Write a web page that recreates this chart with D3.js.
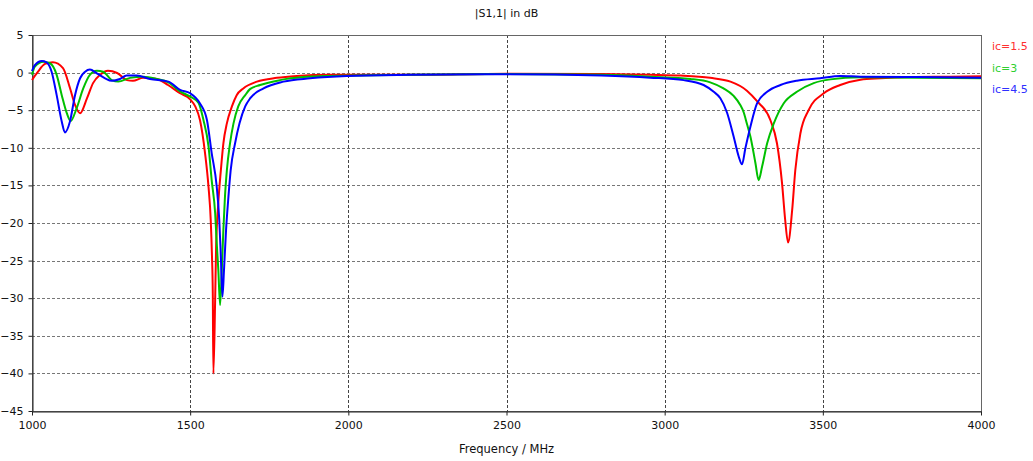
<!DOCTYPE html>
<html lang="en">
<head>
<meta charset="utf-8">
<title>|S1,1| in dB</title>
<script src="https://cdn.jsdelivr.net/npm/d3@7"></script>
<style>
  body { margin: 0; background: #fff; }
  text { font-family: "DejaVu Sans", sans-serif; }
</style>
</head>
<body>
<script>

// frequency in MHz, |S11| in dB
const freqRed = [1000, 1016, 1041, 1066, 1098, 1120, 1136, 1152, 1174, 1193, 1215, 1240, 1269, 1300, 1319, 1351, 1395, 1430, 1468, 1500, 1516, 1531, 1547, 1558, 1565, 1569, 1571.5, 1573.4, 1578.8, 1582, 1589, 1597, 1605, 1616, 1632, 1647, 1668, 1711, 1774, 1837, 1942, 2195, 2500, 2800, 2954, 3050, 3144, 3208, 3260, 3292, 3334, 3355, 3371, 3381, 3390, 3403, 3413, 3429, 3455, 3503, 3555, 3619, 3682, 3777, 3900, 4000];
const dbRed = [-0.98, -0.05, 1.15, 1.37, 0.6, -2.05, -4.3, -5.4, -3.4, -1.4, -0.3, 0.25, -0.05, -1.0, -1.1, -0.7, -0.85, -1.65, -2.75, -3.55, -4.5, -6.3, -10.7, -15.2, -19.6, -24.5, -29.3, -40, -30.6, -23.2, -17.3, -13, -9.4, -6.75, -4.5, -3.0, -2.1, -1.2, -0.7, -0.45, -0.3, -0.3, -0.15, -0.2, -0.3, -0.4, -0.7, -1.2, -2.4, -3.8, -6.3, -9.4, -14.7, -19.6, -22.6, -18.3, -12.95, -8.1, -5.0, -2.75, -1.65, -0.95, -0.76, -0.6, -0.55, -0.5];

const freqGreen = [1000, 1009, 1036, 1057, 1078, 1094, 1110, 1122, 1141, 1162, 1183, 1205, 1225, 1252, 1273, 1310, 1352, 1394, 1431, 1468, 1500, 1526, 1542, 1558, 1568, 1579, 1584, 1589, 1594.6, 1600, 1605, 1610, 1616, 1626, 1637, 1652, 1674, 1689, 1721, 1784, 1858, 1942, 2195, 2500, 2800, 2954, 3081, 3144, 3186, 3218, 3239, 3250, 3260, 3271, 3287, 3297, 3308, 3324, 3345, 3376, 3418, 3471, 3524, 3619, 3800, 4000];
const dbGreen = [-0.3, 0.8, 1.45, 1.24, -0.3, -3.0, -5.4, -6.45, -4.75, -2.1, -0.3, 0.25, 0.12, -1.0, -1.2, -0.7, -0.55, -0.85, -1.3, -2.5, -3.2, -4.0, -6.3, -9.8, -14.3, -18.7, -22.7, -26.2, -30.9, -26.2, -20.9, -16.5, -13.0, -9.4, -6.75, -4.5, -3.0, -2.2, -1.65, -1.0, -0.6, -0.45, -0.3, -0.2, -0.3, -0.55, -0.85, -1.3, -2.1, -3.1, -4.3, -5.3, -6.8, -8.5, -12.05, -14.3, -12.5, -9.4, -6.75, -4.1, -2.55, -1.4, -0.9, -0.63, -0.7, -0.75];

const freqBlue = [1000, 1009, 1031, 1046, 1062, 1078, 1094, 1104, 1120, 1136, 1152, 1168, 1183, 1205, 1231, 1252, 1278, 1299, 1331, 1373, 1431, 1468, 1500, 1531, 1553, 1568, 1584, 1592, 1597, 1602, 1607, 1613.5, 1621, 1628, 1642, 1656, 1674, 1690, 1732, 1795, 1879, 1995, 2195, 2500, 2800, 2954, 3060, 3123, 3155, 3176, 3197, 3218, 3234, 3244.5, 3255, 3271, 3292, 3324, 3366, 3418, 3492, 3555, 3619, 3800, 4000];
const dbBlue = [0.2, 1.0, 1.55, 1.37, 0.12, -3.0, -6.5, -7.95, -6.5, -3.0, -0.75, 0.12, 0.4, -0.1, -0.76, -1.1, -0.85, -0.4, -0.4, -0.85, -1.2, -2.3, -2.75, -4.1, -6.3, -10.7, -15.2, -19.6, -24.5, -29.8, -26.2, -20.9, -16.5, -13.0, -9.4, -6.75, -4.5, -3.4, -2.1, -1.2, -0.76, -0.45, -0.3, -0.22, -0.4, -0.67, -1.0, -1.65, -2.55, -3.4, -5.3, -8.5, -11.15, -12.2, -10.1, -7.2, -4.1, -2.55, -1.65, -1.08, -0.76, -0.45, -0.55, -0.6, -0.7];

const seriesNames = ["ic=1.5", "ic=3", "ic=4.5"];
const seriesColors = ["#ff0000", "#00c000", "#0000ff"];
const legendColors = ["#ff3030", "#30d030", "#3030ff"];

const xTicks = [1000, 1500, 2000, 2500, 3000, 3500, 4000];
const yTicks = [5, 0, -5, -10, -15, -20, -25, -30, -35, -40, -45];

const width = 1033;
const height = 461;
const marginTop = 35;
const marginRight = 52;
const marginBottom = 50;
const marginLeft = 32;

const series = [
  {name: seriesNames[0], f: freqRed, v: dbRed},
  {name: seriesNames[1], f: freqGreen, v: dbGreen},
  {name: seriesNames[2], f: freqBlue, v: dbBlue}
].map((s, i) => ({
  name: s.name,
  color: seriesColors[i],
  points: s.f.map((f, j) => [f, s.v[j]])
}));

const x = d3.scaleLinear()
  .domain([1000, 4000])
  .range([marginLeft, width - marginRight]);

const y = d3.scaleLinear()
  .domain([-45, 5])
  .range([height - marginBottom, marginTop]);

const svg = d3.select("body").append("svg")
  .attr("width", width)
  .attr("height", height)
  .attr("viewBox", [0, 0, width, height]);

// grid
svg.append("g")
  .attr("stroke", "#777")
  .attr("stroke-dasharray", "3,2")
  .selectAll("line")
  .data(yTicks.filter(d => d !== 5 && d !== -45))
  .join("line")
  .attr("x1", marginLeft)
  .attr("x2", width - marginRight)
  .attr("y1", d => Math.round(y(d)) + 0.5)
  .attr("y2", d => Math.round(y(d)) + 0.5);

svg.append("g")
  .attr("stroke", "#444")
  .attr("stroke-dasharray", "3,2")
  .selectAll("line")
  .data(xTicks.filter(d => d !== 1000 && d !== 4000))
  .join("line")
  .attr("x1", d => Math.round(x(d)) + 0.5)
  .attr("x2", d => Math.round(x(d)) + 0.5)
  .attr("y1", marginTop)
  .attr("y2", height - marginBottom);

// frame
svg.append("rect")
  .attr("x", marginLeft + 0.5)
  .attr("y", marginTop + 0.5)
  .attr("width", width - marginLeft - marginRight)
  .attr("height", height - marginTop - marginBottom)
  .attr("fill", "none")
  .attr("stroke", "#666");

// axes
svg.append("g")
  .attr("transform", `translate(0,${height - marginBottom + 0.5})`)
  .call(d3.axisBottom(x).tickValues(xTicks).tickSize(4).tickSizeOuter(0).tickPadding(6).tickFormat(d3.format("d")))
  .call(g => g.select(".domain").attr("stroke", "#222"))
  .call(g => g.selectAll(".tick line").attr("stroke", "#222"))
  .call(g => g.selectAll("text").attr("fill", "#111").style("font-size", "11px"));

svg.append("g")
  .attr("transform", `translate(${marginLeft + 0.5},0)`)
  .call(d3.axisLeft(y).tickValues(yTicks).tickSize(4).tickSizeOuter(0).tickPadding(5).tickFormat(d3.format("d")))
  .call(g => g.select(".domain").attr("stroke", "#222"))
  .call(g => g.selectAll(".tick line").attr("stroke", "#222"))
  .call(g => g.selectAll("text").attr("fill", "#111").style("font-size", "11px"));

// curves
const line = d3.line()
  .x(d => x(d[0]))
  .y(d => y(d[1]))
  .curve(d3.curveMonotoneX);

svg.append("g")
  .attr("fill", "none")
  .attr("stroke-width", 2)
  .attr("stroke-linejoin", "round")
  .selectAll("path")
  .data(series)
  .join("path")
  .attr("stroke", d => d.color)
  .attr("d", d => line(d.points));

// legend
svg.append("g")
  .selectAll("text")
  .data(series)
  .join("text")
  .attr("x", width - marginRight + 11)
  .attr("y", (d, i) => 50 + i * 21.5)
  .attr("fill", (d, i) => legendColors[i])
  .style("font-size", "11px")
  .text(d => d.name);

// titles
svg.append("text")
  .attr("x", (marginLeft + width - marginRight) / 2)
  .attr("y", 17)
  .attr("text-anchor", "middle")
  .attr("fill", "#111")
  .style("font-size", "11px")
  .text("|S1,1| in dB");

svg.append("text")
  .attr("x", (marginLeft + width - marginRight) / 2)
  .attr("y", 453)
  .attr("text-anchor", "middle")
  .attr("fill", "#111")
  .style("font-size", "11.5px")
  .text("Frequency / MHz");

</script>
</body>
</html>
